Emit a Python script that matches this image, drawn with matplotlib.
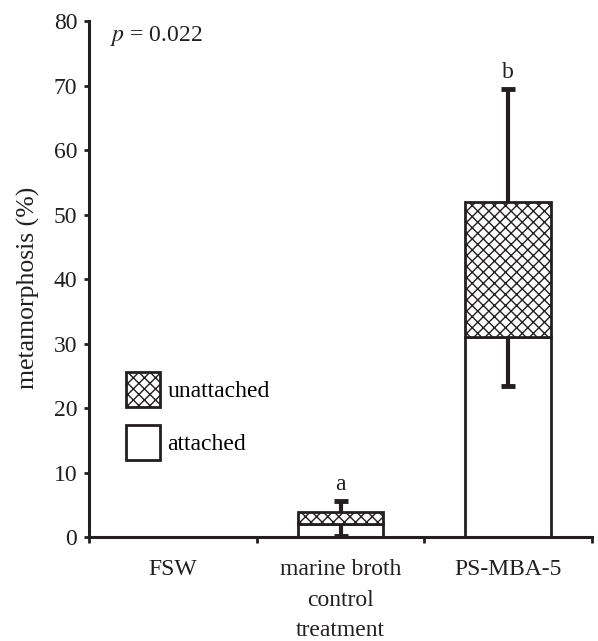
import numpy as np
import matplotlib.pyplot as plt
from matplotlib.patches import Patch
from matplotlib import rcParams

rcParams['font.family'] = 'serif'
rcParams['font.serif'] = ['Liberation Serif', 'DejaVu Serif']
rcParams['mathtext.fontset'] = 'stix'
rcParams['hatch.color'] = '#808080'
rcParams['hatch.linewidth'] = 1.0

# data
groups = ['FSW', 'marine broth\ncontrol\ntreatment', 'PS-MBA-5']
attached = np.array([0.0, 2.0, 31.0])
unattached = np.array([0.0, 1.9, 21.0])
attached_err_low = np.array([0.0, 1.8, 7.5])
total_err_high = np.array([0.0, 1.7, 17.5])
letters = ['', 'a', 'b']
p_text = r'$p$ = 0.022'

dark = '#231f20'
fs = 17

fig = plt.figure(figsize=(5.98, 6.41), dpi=100)
ax = fig.add_axes([0.149, 0.162, 0.841, 0.805])

x = np.arange(len(groups)) + 0.5
w = 0.51
total = attached + unattached

ax.bar(x, attached, w, color='white', edgecolor=dark, linewidth=2.0, zorder=2)
ax.bar(x, unattached, w, bottom=attached, color='white', edgecolor=dark,
       linewidth=2.0, hatch='xxx', zorder=2)

# one-sided error bars: line from the bar top, cap only at the far end
show = total > 0
lo_end = attached[show] - attached_err_low[show]
hi_end = total[show] + total_err_high[show]
ax.vlines(x[show], lo_end, attached[show], color=dark, linewidth=3, zorder=3)
ax.vlines(x[show], total[show], hi_end, color=dark, linewidth=3, zorder=3)
ax.plot(x[show], lo_end, ls='none', marker='_', ms=10, mew=3.5, color=dark, zorder=3)
ax.plot(x[show], hi_end, ls='none', marker='_', ms=10, mew=3.5, color=dark, zorder=3)

for xi, t, e, lab in zip(x, total, total_err_high, letters):
    if lab:
        ax.text(xi, t + e + 2.5, lab, ha='center', va='center', fontsize=fs, color=dark)

ax.text(0.125, 77.7, p_text, ha='left', va='center', fontsize=fs, color=dark)

ax.set_xlim(0, 3)
ax.set_ylim(0, 80)
ax.set_yticks(np.arange(0, 81, 10))
ax.set_xticks([0, 1, 2, 3])
ax.set_xticklabels([])
ax.set_xticks(x, minor=True)
ax.set_xticklabels(groups, minor=True, fontsize=fs, color=dark, linespacing=1.58)
ax.tick_params(axis='x', which='minor', length=0, pad=16)
ax.tick_params(axis='x', which='major', length=4, width=2, color=dark, direction='out')
ax.tick_params(axis='y', length=3.5, width=2, color=dark, labelsize=fs, labelcolor=dark, pad=5)

for s in ['top', 'right']:
    ax.spines[s].set_visible(False)
for s in ['left', 'bottom']:
    ax.spines[s].set_linewidth(2.2)
    ax.spines[s].set_color(dark)

ax.set_ylabel('metamorphosis (%)', fontsize=18.5, color=dark, labelpad=9.5)
ax.yaxis.label.set_y(0.483)

handles = [Patch(facecolor='white', edgecolor=dark, linewidth=2.0, hatch='xxx', label='unattached'),
           Patch(facecolor='white', edgecolor=dark, linewidth=2.0, label='attached')]
fig.legend(handles=handles, loc='upper left', bbox_to_anchor=(126 / 598, 1 - 372 / 641),
           frameon=False, fontsize=fs, handlelength=1.45, handleheight=1.9,
           labelspacing=0.75, handletextpad=0.3, borderpad=0, borderaxespad=0)

plt.savefig('out.png', dpi=100)
